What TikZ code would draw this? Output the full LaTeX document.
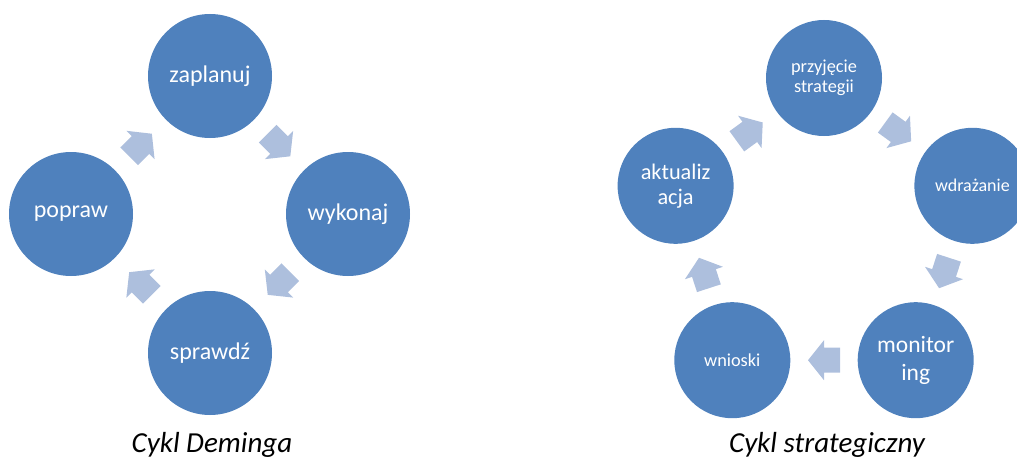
\documentclass[tikz,border=0pt]{standalone}
\usepackage{fontspec}
\setmainfont{Carlito}
\usetikzlibrary{calc}
\definecolor{circblue}{HTML}{4F81BD}
\definecolor{arrblue}{HTML}{ADBFDD}
\tikzset{
  circ/.style={circle, fill=circblue, draw=none, minimum size=124pt, inner sep=0pt, text=white, align=center, font=\fontsize{24}{28}\selectfont},
  smallcirc/.style={circ, minimum size=116pt},
  caption/.style={anchor=base, font=\fontsize{29}{33}\selectfont\itshape, text=black},
  cyclearrow/.pic={\fill[arrblue] (-16,-12.5) -- (0,-12.5) -- (0,-20) -- (16,0) -- (0,20) -- (0,12.5) -- (-16,12.5) -- cycle;}
}
\newcommand{\cyclearr}[2]{\path let \p1=($(#2)-(#1)$), \n1={atan2(\y1,\x1)} in ($(#1)!0.5!(#2)$) pic[rotate=\n1]{cyclearrow};}
\begin{document}
\begin{tikzpicture}[x=1pt,y=1pt]
\useasboundingbox (0,0) rectangle (1017,459);
\clip (0,0) rectangle (1017,459);
% Deming cycle
\node[circ] (plan) at (210,383) {zaplanuj};
\node[circ] (do) at (348,245) {wykonaj};
\node[circ] (check) at (210,106) {sprawdź};
\node[circ] (act) at (71,245) {popraw};
\cyclearr{plan}{do}
\cyclearr{do}{check}
\cyclearr{check}{act}
\cyclearr{act}{plan}
\node[caption] (cap1) at (212,7) {Cykl Deminga};
% strategic cycle
\node[smallcirc, font=\fontsize{18.3}{20}\selectfont] (adopt) at (824,381) {przyjęcie\\strategii};
\node[smallcirc, font=\fontsize{18}{20}\selectfont] (impl) at (972.4,273.2) {wdrażanie};
\node[smallcirc, font=\fontsize{18.3}{20}\selectfont] (concl) at (732.3,98.8) {wnioski};
\node[smallcirc, font=\fontsize{23.5}{28}\selectfont] (mon) at (915.7,98.8) {monitor\\ing};
\node[smallcirc, font=\fontsize{22.3}{25}\selectfont] (upd) at (675.6,273.2) {aktualiz\\acja};
\cyclearr{adopt}{impl}
\cyclearr{impl}{mon}
\cyclearr{mon}{concl}
\cyclearr{concl}{upd}
\cyclearr{upd}{adopt}
\node[caption] (cap2) at (827,7) {Cykl strategiczny};
\end{tikzpicture}
\end{document}
